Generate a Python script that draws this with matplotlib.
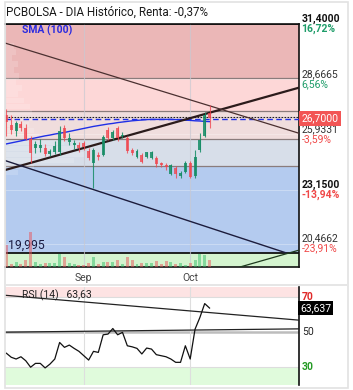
import matplotlib

matplotlib.use("Agg")
import matplotlib.pyplot as plt
from matplotlib.patches import Rectangle
from matplotlib.transforms import blended_transform_factory

plt.rcParams["font.family"] = ["Roboto", "DejaVu Sans"]

# daily candles, index 0 = mid August
OPEN = [26.85, 26.35, 26.05, 26.40, 26.20, 25.66, 25.21, 25.21, 25.21, 24.91,
        25.01, 25.01, 26.20, 25.51, 25.36, 25.36, 25.46, 25.06, 24.46, 24.86,
        24.86, 26.10, 25.71, 26.20, 25.81, 25.71, 25.11, 24.76, 24.86, 24.76,
        24.71, 24.71, 24.46, 24.37, 23.92, 24.22, 23.82, 24.02, 24.46, 23.82,
        25.11, 25.81, 26.95]
HIGH = [27.15, 26.85, 26.55, 26.55, 26.40, 25.81, 25.56, 25.66, 25.41, 25.16,
        25.56, 26.30, 26.35, 25.95, 25.61, 25.51, 25.56, 25.21, 25.21, 25.01,
        25.86, 26.25, 26.10, 26.30, 26.00, 25.81, 25.21, 25.16, 24.96, 25.01,
        25.06, 24.81, 24.51, 24.46, 24.41, 24.32, 24.07, 24.56, 24.56, 25.11,
        25.95, 27.00, 27.35]
LOW = [25.81, 25.90, 25.81, 26.05, 25.61, 24.46, 24.96, 25.01, 24.81, 24.81,
       24.91, 24.86, 25.56, 25.36, 25.16, 25.01, 25.11, 24.61, 23.22, 24.61,
       24.81, 25.61, 25.61, 25.56, 25.71, 24.96, 24.86, 24.71, 24.46, 24.71,
       24.68, 24.27, 24.27, 24.12, 23.87, 23.72, 23.72, 23.97, 23.72, 23.72,
       25.01, 25.76, 26.20]
CLOSE = [26.50, 26.10, 26.45, 26.20, 25.66, 24.96, 25.41, 25.36, 24.91, 25.06,
         25.31, 26.05, 25.71, 25.71, 25.46, 25.23, 25.26, 24.71, 25.11, 24.76,
         25.76, 25.71, 26.00, 25.71, 25.86, 25.06, 24.96, 25.06, 24.51, 25.01,
         25.01, 24.41, 24.37, 24.27, 24.37, 23.92, 23.97, 24.46, 23.77, 24.76,
         25.61, 26.85, 26.70]
VOLUME = [22, 3, 5, 3, 7, 35, 5, 3, 4, 4, 4, 13, 10, 4, 3, 2, 2, 4, 10, 3,
          5, 5, 5, 7, 3, 10, 7, 3, 4, 4, 4, 6, 3, 6, 5, 3, 4, 2, 4, 7,
          13, 12, 7]
SMA100 = [25.43, 25.48, 25.53, 25.58, 25.63, 25.68, 25.73, 25.78, 25.83, 25.87,
          25.92, 25.96, 26.00, 26.05, 26.10, 26.15, 26.20, 26.25, 26.30, 26.34,
          26.38, 26.42, 26.45, 26.49, 26.52, 26.55, 26.58, 26.60, 26.62, 26.64,
          26.65, 26.65, 26.65, 26.65, 26.65, 26.64, 26.63, 26.61, 26.60, 26.58,
          26.57, 26.55, 26.54]
RSI = [37.7, 35.4, 34.4, 35.7, 33.4, 29.7, 31.9, 31.9, 29.3, 31.5,
       34.4, 43.9, 41.1, 42.4, 40.5, 38.8, 36.3, 33.8, 38.8, 38.2,
       48.3, 48.7, 51.9, 48.3, 49.7, 42.0, 41.4, 40.5, 37.3, 40.7,
       40.1, 36.9, 36.3, 35.7, 34.4, 32.5, 32.5, 42.0, 34.4, 51.5,
       58.2, 66.2, 63.637]

MONTH_TICKS = [16, 38]
MONTH_LABELS = ["Sep", "Oct"]

# volume at price profile (left side)
PROFILE_PRICE = [30.3, 30.0, 29.7, 29.4, 29.1, 28.8, 28.5, 28.2, 27.9, 27.6, 27.3,
                 27.0, 26.7, 26.4, 26.1, 25.8, 25.5, 25.2, 24.9, 24.6, 24.3, 24.0]
PROFILE_VOL = [10, 12, 8, 14, 10, 15, 12, 18, 14, 20, 26,
               28, 32, 25, 30, 35, 60, 75, 80, 70, 30, 14]

FIB_HIGH = 31.40
FIB_LOW = 19.995
FIB_RATIOS = [0.0, 0.236, 0.382, 0.5, 0.618, 1.0]
LEVELS = [31.40, 28.6665, 25.9331, 23.15, 20.4662]
LEVEL_PCT = ["16,72%", "6,56%", "-3,59%", "-13,94%", "-23,91%"]
LAST = 26.70
PREV_REF = 26.78
SMA_LAST = 26.68

# trendlines (index, price)
TREND_UP_X, TREND_UP_Y = [-0.4, 60.5], [24.12, 28.23]
TREND_DN_X, TREND_DN_Y = [-0.4, 60.5], [30.46, 25.96]
CHAN_DN_X, CHAN_DN_Y = [-0.4, 58.0], [24.61, 19.99]
CHAN_UP_X, CHAN_UP_Y = [48.3, 60.5], [19.30, 20.14]
RSI_DN_X, RSI_DN_Y = [-0.4, 60.5], [71.0, 56.7]
RSI_UP_X, RSI_UP_Y = [-0.4, 60.5], [49.8, 51.7]

W, H = 353, 390


def fr(x0, y0, x1, y1):
    return [x0 / W, 1 - y1 / H, (x1 - x0) / W, (y1 - y0) / H]


fig = plt.figure(figsize=(W / 100, H / 100), dpi=100)
fig.patch.set_facecolor("white")

ax = fig.add_axes(fr(4.5, 24, 299, 267))
rx = fig.add_axes(fr(4.5, 286.5, 299, 385))

XL = (-0.4, 60.5)
n = len(CLOSE)
idx = list(range(n))

# fibonacci bands
fib = [FIB_HIGH - r * (FIB_HIGH - FIB_LOW) for r in FIB_RATIOS]
band_colors = ["#ebb7b7", "#fdd7d7", "#f0dddd", "#d7dee9", "#b4cbef"]
for top, bot, c in zip(fib[:-1], fib[1:], band_colors):
    ax.axhspan(bot, top, color=c, zorder=0, lw=0)
ax.axhspan(19.0, FIB_LOW, color="#d4f4cf", zorder=0, lw=0)
for k, lv in enumerate(fib):
    if k in (0, len(fib) - 1):
        ax.axhline(lv, color="#111111", lw=1.3, zorder=1)
    else:
        ax.axhline(lv, color="#8a7c7c", lw=0.9, zorder=1)

# faint level grid
for lv in LEVELS[1:]:
    ax.axhline(lv, color="white", lw=0.7, alpha=0.3, zorder=1)
for t in MONTH_TICKS:
    ax.axvline(t, color="#c9c9d2", lw=0.8, alpha=0.7, zorder=1)

# volume profile
ax.barh(PROFILE_PRICE, [v / 4.84 for v in PROFILE_VOL], height=0.28, left=XL[0],
        color="white", alpha=0.16, lw=0, zorder=1)

# volume
axv = ax.twinx()
vcol = ["#35c06a" if c >= o else "#e8555a" for o, c in zip(OPEN, CLOSE)]
axv.bar(idx, VOLUME, width=0.62, color=vcol, alpha=0.5, lw=0)
axv.set_ylim(0, 243)
axv.axis("off")

# trendlines
ax.plot(TREND_UP_X, TREND_UP_Y, color="#2b1b1b", lw=1.6, zorder=4)
ax.plot(TREND_DN_X, TREND_DN_Y, color="#4a3030", lw=0.9, zorder=4)
ax.plot(CHAN_DN_X, CHAN_DN_Y, color="#1c1c3c", lw=1.0, zorder=4)
ax.plot(CHAN_UP_X, CHAN_UP_Y, color="#1d3a1d", lw=0.9, zorder=4)

# reference lines
ax.axhline(PREV_REF, color="#222222", lw=0.8, ls=(0, (1.5, 1.2)), zorder=3)
ax.axhline(SMA_LAST, color="#1f2fe6", lw=1.0, ls=(0, (4, 2.5)), zorder=3)
ax.plot(idx, SMA100, color="#1f2fe6", lw=1.0, zorder=3)

# candles
for i in idx:
    up = CLOSE[i] >= OPEN[i]
    col = "#148c64" if up else "#f0454e"
    a = 0.85 if up else 0.78
    ax.vlines(i, LOW[i], HIGH[i], color=col, lw=0.8, alpha=a, zorder=5)
    ax.bar(i, abs(CLOSE[i] - OPEN[i]) or 0.02, bottom=min(OPEN[i], CLOSE[i]),
           width=0.62, color=col, alpha=a, lw=0, zorder=5)

ax.set_xlim(*XL)
ax.set_ylim(19.30, 31.40)
ax.set_yticks([])
ax.set_xticks(MONTH_TICKS)
ax.set_xticklabels(MONTH_LABELS)
ax.tick_params(axis="x", length=0, pad=4.5, labelsize=7.5, labelcolor="#444444")
for s in ("top", "right", "bottom"):
    ax.spines[s].set_color("#111111")
    ax.spines[s].set_linewidth(1.2)
ax.spines["left"].set_color("#dcdcdc")

# right price labels
tr = blended_transform_factory(ax.transAxes, ax.transData)
green, red, dark = "#1f9d6a", "#f04848", "#333333"
bold = [True, False, False, True, False]
for lv, pct, b in zip(LEVELS, LEVEL_PCT, bold):
    pc = green if not pct.startswith("-") else red
    w = "bold" if b else "normal"
    ax.text(1.008, lv, f"{lv:.4f}".replace(".", ","), transform=tr, va="bottom",
            ha="left", fontsize=7.5, color="#111111" if b else dark, fontweight=w,
            clip_on=False)
    ax.text(1.008, lv, pct, transform=tr, va="top", ha="left", fontsize=7.5,
            color=pc, fontweight=w, clip_on=False)
ax.text(1.008, LAST, f"{LAST:.4f}".replace(".", ","), transform=tr, va="center",
        ha="left", fontsize=7.5, color="white", zorder=10, clip_on=False,
        bbox=dict(boxstyle="square,pad=0.22", fc="#f25555", ec="none"))

ax.text(0.35, FIB_LOW + 0.08, f"{FIB_LOW:.3f}".replace(".", ","), va="bottom",
        ha="left", fontsize=8.8, color="#1a1a40", zorder=6)
fig.text(22 / W, 1 - 30 / H, "SMA (100)", va="center", ha="left", fontsize=7.5,
         color="#2a2ae0", fontweight="bold")
fig.text(5.5 / W, 1 - 12 / H, "PCBOLSA - DIA Histórico, Renta: -0,37%",
         va="center", ha="left", fontsize=8.4, color="#1a1a1a")

# RSI panel
rx.set_xlim(*XL)
rx.set_ylim(19.5, 76)
rx.axhspan(70, 76, color="#fde3e3", lw=0, zorder=0)
rx.axhspan(19.5, 30, color="#e0fbdc", lw=0, zorder=0)
rx.axhline(70, color="#dddddd", lw=0.8, zorder=1)
rx.axhline(30, color="#dddddd", lw=0.8, zorder=1)
rx.axhline(50, color="#bdbdbd", lw=1.8, zorder=1)
for t in MONTH_TICKS:
    rx.axvline(t, color="#dedede", lw=0.8, zorder=1)
rx.plot(RSI_DN_X, RSI_DN_Y, color="#222222", lw=0.9, zorder=3)
rx.plot(RSI_UP_X, RSI_UP_Y, color="#222222", lw=0.9, zorder=3)
rx.plot(idx, RSI, color="#111111", lw=0.9, zorder=4)
rx.set_xticks([])
rx.set_yticks([])
for s in ("top", "left", "bottom"):
    rx.spines[s].set_visible(False)
rx.spines["right"].set_color("#111111")
rx.spines["right"].set_linewidth(1.2)
trr = blended_transform_factory(rx.transAxes, rx.transData)
rx.text(1.01, 70, "70", transform=trr, va="center", fontsize=7.5, color="#e02828",
        fontweight="bold")
rx.text(1.01, 50, "50", transform=trr, va="center", fontsize=7.5, color="#222222")
rx.text(1.01, 30, "30", transform=trr, va="center", fontsize=7.5, color="#249a24",
        fontweight="bold")
rx.text(1.003, RSI[-1], f"{RSI[-1]:.3f}".replace(".", ","), transform=trr,
        va="center", fontsize=7.5, color="white",
        bbox=dict(boxstyle="square,pad=0.22", fc="black", ec="none"))
rsi_short = int(RSI[-1] * 100) / 100
rx.text(0.059, 0.915, f"RSI (14)   {rsi_short:.2f}".replace(".", ","),
        transform=rx.transAxes, va="center", fontsize=7.5, color="#222222")

# outer frame
fig.add_artist(Rectangle((4.5 / W, 2 / H), (348 - 4.5) / W, (388 - 2) / H,
                         transform=fig.transFigure, fill=False, ec="#e2e2e2", lw=1.2))
fig.add_artist(Rectangle((4.5 / W, 1 - 286 / H), (348 - 4.5) / W, 2.5 / H,
                         transform=fig.transFigure, fc="#e6e6e6", ec="none"))

fig.savefig("out.png", dpi=100)
